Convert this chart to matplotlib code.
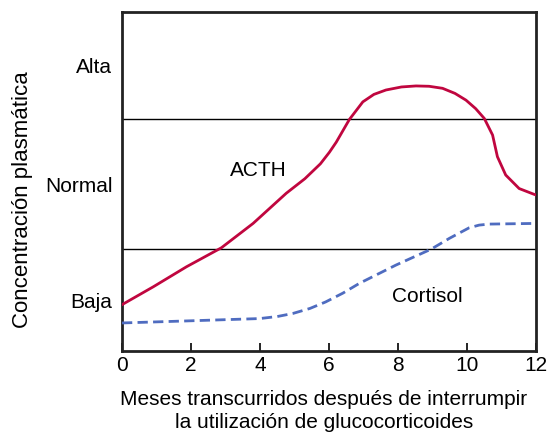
import matplotlib
matplotlib.use("Agg")
import matplotlib.pyplot as plt

plt.rcParams["font.family"] = ["Liberation Sans", "DejaVu Sans"]

# values (y: 0 = bottom of axis, 10 = top)
acth_x = [0, 0.91, 1.87, 2.88, 3.80, 4.76, 5.30, 5.75, 6.01, 6.21, 6.59, 6.98, 7.30, 7.65,
          8.10, 8.52, 8.90, 9.29, 9.65, 9.97, 10.25, 10.50, 10.74, 10.88, 11.12, 11.51, 11.94, 12]
acth_y = [1.36, 1.89, 2.48, 3.04, 3.76, 4.65, 5.08, 5.52, 5.86, 6.16, 6.83, 7.35, 7.57, 7.70,
          7.79, 7.82, 7.81, 7.75, 7.60, 7.40, 7.15, 6.86, 6.37, 5.73, 5.19, 4.79, 4.62, 4.60]

cort_x = [0, 1.87, 3.99, 4.50, 4.95, 5.45, 5.90, 6.40, 6.88, 7.94, 8.96, 9.49, 10.06, 10.35, 10.64, 12]
cort_y = [0.82, 0.88, 0.95, 1.01, 1.10, 1.25, 1.44, 1.70, 1.99, 2.53, 3.00, 3.32, 3.63, 3.71, 3.74, 3.76]

level_pos = [1.49, 4.92, 8.43]
level_labels = ["Baja", "Normal", "Alta"]
bounds = [3.0, 6.83]
months = [0, 2, 4, 6, 8, 10, 12]

fig = plt.figure(figsize=(5.47, 4.33), dpi=100)
ax = fig.add_axes([0.223, 0.190, 0.757, 0.782])

for b in bounds:
    ax.axhline(b, color="black", linewidth=1.0, zorder=1)

ax.plot(acth_x, acth_y, color="#C0063F", linewidth=2.0, zorder=3)
ax.plot(cort_x, cort_y, color="#4F6CC0", linewidth=2.0, linestyle=(0, (3.7, 1.9)), zorder=3)

ax.text(3.94, 5.31, "ACTH", fontsize=15, ha="center", va="center")
ax.text(8.86, 1.61, "Cortisol", fontsize=15, ha="center", va="center")

ax.set_xlim(0, 12)
ax.set_ylim(0, 10)
ax.set_xticks(months)
ax.set_yticks(level_pos)
ax.set_yticklabels(level_labels)
ax.tick_params(axis="x", direction="in", length=6, width=1.2, labelsize=15, pad=4)
ax.tick_params(axis="y", length=0, labelsize=15, pad=7)

for s in ax.spines.values():
    s.set_linewidth(2.0)
    s.set_color("#222222")

ax.set_xlabel("Meses transcurridos después de interrumpir\nla utilización de glucocorticoides",
              fontsize=15, linespacing=1.25)
ax.xaxis.set_label_coords(0.487, -0.117)
ax.set_ylabel("Concentración plasmática", fontsize=16)
ax.yaxis.set_label_coords(-0.214, 0.445)

fig.savefig("out.png", dpi=100)
